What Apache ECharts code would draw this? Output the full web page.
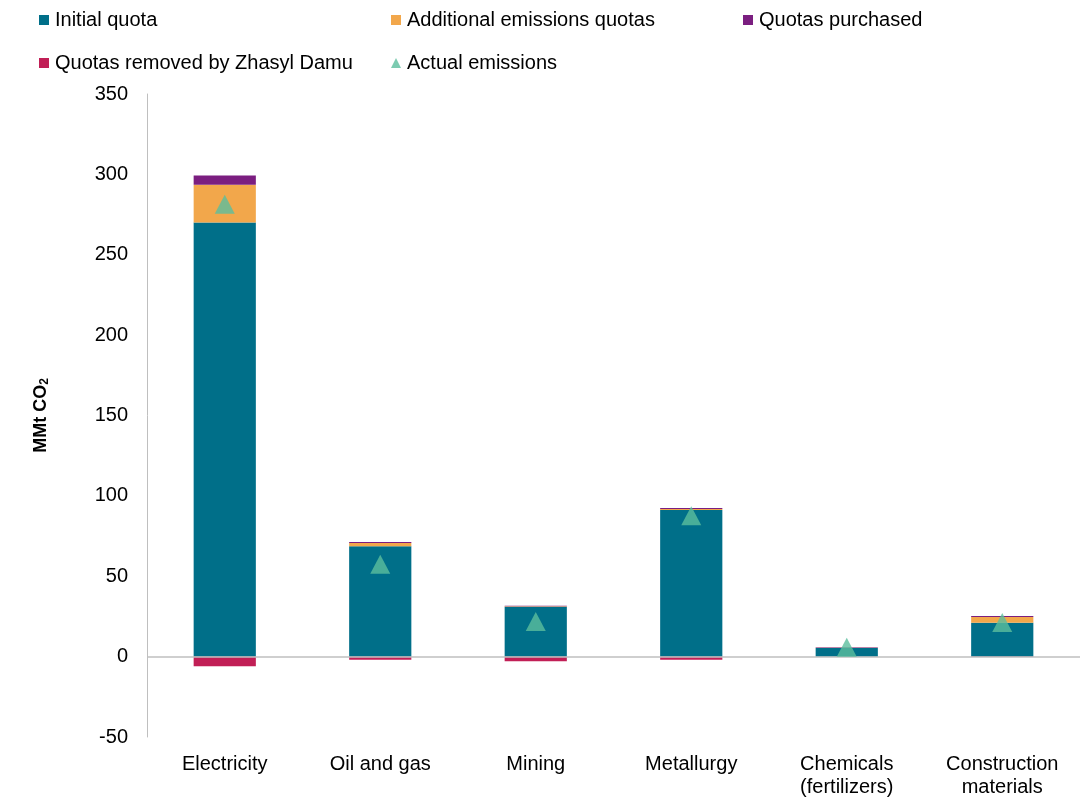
<!DOCTYPE html>
<html>
<head>
<meta charset="utf-8">
<script src="https://cdn.jsdelivr.net/npm/echarts@6/dist/echarts.min.js"></script>
<style>
  html, body { margin: 0; padding: 0; background: #ffffff; }
  #chart { width: 1086px; height: 797px; }
</style>
</head>
<body>
<div id="chart"></div>
<script>
// Sectors and emission quotas, MMt CO2
const categories = ['Electricity', 'Oil and gas', 'Mining', 'Metallurgy', 'Chemicals\n(fertilizers)', 'Construction\nmaterials'];
const initialQuota = [270, 68.6, 31.0, 91.2, 5.3, 21.0];
const additionalQuotas = [23.5, 2.1, 0.3, 0.6, 0.2, 3.7];
const quotasPurchased = [5.8, 0.6, 0.3, 0.6, 0.4, 0.6];
const quotasRemoved = [-6.0, -1.9, -2.9, -1.9, 0, -0.3];
const actualEmissions = [281.4, 57.5, 21.8, 87.7, 5.9, 21.3];
const yTicks = { min: -50, max: 350, interval: 50 };

const FONT = 'Liberation Sans, Arial, Helvetica, sans-serif';
const colors = {
  initial: '#006F89',
  additional: '#F2A74B',
  purchased: '#7B1E80',
  removed: '#C11F56',
  actual: '#5BBE9E'
};

const chart = echarts.init(document.getElementById('chart'), null, { renderer: 'canvas' });

function legendAt(name, left, top, icon) {
  return {
    data: [{ name: name, icon: icon }],
    left: left,
    top: top,
    orient: 'horizontal',
    itemWidth: 10,
    itemHeight: 10,
    padding: 0,
    selectedMode: false,
    textStyle: { fontFamily: FONT, fontSize: 20, color: '#000000', padding: [1, 0, 0, 1] }
  };
}

function barSeries(name, data, color) {
  return {
    name: name,
    type: 'bar',
    stack: 'quota',
    data: data,
    barWidth: '40%',
    itemStyle: { color: color },
    emphasis: { disabled: true }
  };
}

const option = {
  animation: false,
  backgroundColor: '#ffffff',
  textStyle: { fontFamily: FONT },
  legend: [
    legendAt('Initial quota', 39, 10, 'rect'),
    legendAt('Additional emissions quotas', 391, 10, 'rect'),
    legendAt('Quotas purchased', 743, 10, 'rect'),
    legendAt('Quotas removed by Zhasyl Damu', 39, 53, 'rect'),
    legendAt('Actual emissions', 391, 53, 'triangle')
  ],
  grid: { left: 147, right: 6, top: 94, bottom: 60, containLabel: false, outerBoundsMode: 'none' },
  xAxis: {
    type: 'category',
    data: categories,
    axisLine: { show: false, onZero: false },
    axisTick: { show: false },
    axisLabel: {
      fontFamily: FONT,
      fontSize: 20,
      color: '#000000',
      lineHeight: 23,
      margin: 16,
      interval: 0
    }
  },
  yAxis: {
    type: 'value',
    min: yTicks.min,
    max: yTicks.max,
    interval: yTicks.interval,
    name: '{a|MMt CO}{s|2}',
    nameLocation: 'middle',
    nameRotate: 90,
    nameGap: 96,
    nameTextStyle: {
      rich: {
        a: { fontFamily: FONT, fontSize: 18, fontWeight: 'bold', color: '#000000' },
        s: { fontFamily: FONT, fontSize: 12, fontWeight: 'bold', color: '#000000', verticalAlign: 'bottom', padding: [8, 0, 0, 0] }
      }
    },
    axisLine: { show: true, lineStyle: { color: '#BFBFBF', width: 1 } },
    axisTick: { show: false },
    splitLine: { show: false },
    axisLabel: { fontFamily: FONT, fontSize: 20, color: '#000000', margin: 19 }
  },
  series: [
    barSeries('Initial quota', initialQuota, colors.initial),
    barSeries('Additional emissions quotas', additionalQuotas, colors.additional),
    barSeries('Quotas purchased', quotasPurchased, colors.purchased),
    Object.assign(barSeries('Quotas removed by Zhasyl Damu', quotasRemoved, colors.removed), {
      markLine: {
        silent: true,
        symbol: 'none',
        label: { show: false },
        lineStyle: { color: '#BFBFBF', width: 1.5, type: 'solid' },
        data: [{ yAxis: 0 }]
      }
    }),
    {
      name: 'Actual emissions',
      type: 'scatter',
      data: actualEmissions,
      symbol: 'triangle',
      symbolSize: [20, 19],
      itemStyle: { color: colors.actual },
      z: 5,
      emphasis: { disabled: true }
    }
  ]
};

chart.setOption(option);
</script>
</body>
</html>
